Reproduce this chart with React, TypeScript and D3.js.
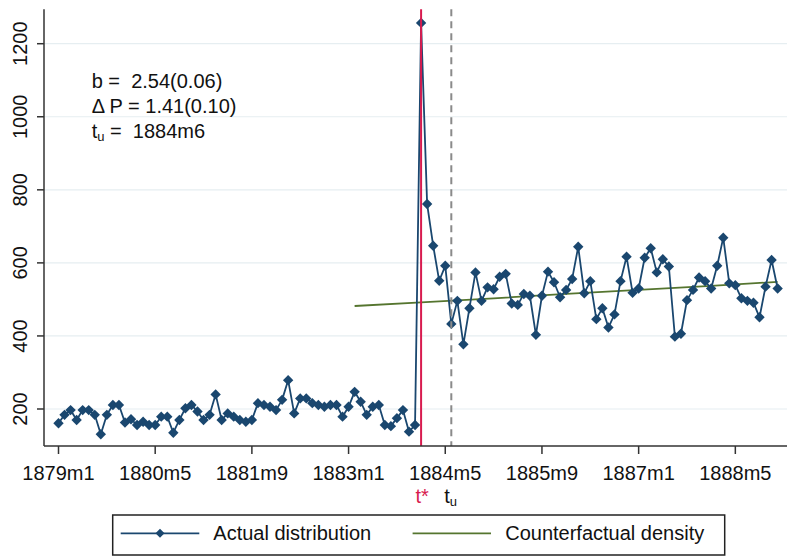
import React from 'react';
import * as d3 from 'd3';

const startYear = 1879;

// Monthly actual distribution, 1879m1 .. 1888m12
const actualValues = [
  161, 184, 197, 170, 197, 197, 184, 131, 184, 211, 211, 163,
  172, 156, 165, 156, 156, 179, 179, 135, 170, 202, 211, 193,
  170, 184, 240, 170, 188, 179, 170, 165, 170, 216, 211, 206,
  197, 225, 279, 188, 229, 229, 216, 211, 206, 211, 211, 179,
  206, 247, 220, 184, 206, 211, 156, 153, 175, 197, 138, 156,
  1257, 761, 647, 551, 592, 433, 496, 377, 476, 574, 496, 533,
  528, 562, 570, 489, 485, 515, 510, 403, 510, 576, 547, 506,
  526, 556, 644, 517, 550, 446, 476, 423, 459, 550, 617, 518,
  530, 614, 640, 574, 610, 590, 398, 406, 498, 526, 560, 550,
  530, 592, 669, 544, 539, 503, 496, 491, 451, 535, 608, 530,
];

// Counterfactual density (read at a few months)
const counterfactualMonths = ['1883m2', '1884m1', '1885m1', '1886m1', '1887m1', '1888m1', '1888m12'];
const counterfactualValues = [482, 492, 503, 515, 526, 537, 548];

const xTickLabels = ['1879m1', '1880m5', '1881m9', '1883m1', '1884m5', '1885m9', '1887m1', '1888m5'];
const yTickValues = [200, 400, 600, 800, 1000, 1200];

const tStarMonth = '1884m1';
const tUMonth = '1884m6';

const annB = '2.54(0.06)';
const annDP = '1.41(0.10)';
const annTu = '1884m6';

const legendLabels = ['Actual distribution', 'Counterfactual density'];

const NAVY = '#1a476f';
const GREEN = '#55752f';
const RED = '#d81b4f';
const FONT = '"Liberation Sans", Arial, sans-serif';
const TEXT = '#111';

function monthIndex(label: string): number {
  const [y, m] = label.split('m');
  return (Number(y) - startYear) * 12 + (Number(m) - 1);
}

export default function App() {
  const W = 787;
  const H = 556;
  const left = 44;
  const bottom = 446;
  const top = 9.3;

  const x = d3.scaleLinear().domain([-2.4, 120.55]).range([left, W]);
  const y = d3.scaleLinear().domain([98.7, 1294.2]).range([bottom, top]);

  const actual = actualValues.map((v, i) => [i, v] as [number, number]);
  const cf = counterfactualMonths.map((m, i) => [monthIndex(m), counterfactualValues[i]] as [number, number]);

  const line = d3.line<[number, number]>().x(d => x(d[0])).y(d => y(d[1]));

  const r = 5.2;
  const diamond = (cx: number, cy: number, rr: number) =>
    `M${cx},${cy - rr}L${cx + rr},${cy}L${cx},${cy + rr}L${cx - rr},${cy}Z`;

  const tStarX = x(monthIndex(tStarMonth));
  const tUX = x(monthIndex(tUMonth));

  const fs = 20;
  const pre = { whiteSpace: 'pre' } as React.CSSProperties;

  return (
    <div style={{ position: 'fixed', left: 0, top: 0 }}>
      <svg width={W} height={H} style={{ display: 'block', background: '#fff' }} fontFamily={FONT}>
        {/* gridlines */}
        {yTickValues.map(v => (
          <line key={'g' + v} x1={left} x2={W} y1={y(v)} y2={y(v)} stroke="#e6eef1" strokeWidth={1.2} />
        ))}

        {/* counterfactual */}
        <path d={line(cf) || ''} fill="none" stroke={GREEN} strokeWidth={1.8} />

        {/* actual */}
        <path d={line(actual) || ''} fill="none" stroke={NAVY} strokeWidth={1.8} strokeLinejoin="round" />
        {actual.map(([i, v]) => (
          <path key={'m' + i} d={diamond(x(i), y(v), r)} fill={NAVY} />
        ))}

        {/* vertical lines */}
        <line x1={tStarX} x2={tStarX} y1={top} y2={bottom} stroke={RED} strokeWidth={2} />
        <line x1={tUX} x2={tUX} y1={top} y2={bottom} stroke="#8a8a8a" strokeWidth={2} strokeDasharray="7,5" />

        {/* axes */}
        <line x1={left} x2={left} y1={top} y2={bottom} stroke="#333" strokeWidth={1.5} />
        <line x1={left} x2={W} y1={bottom} y2={bottom} stroke="#333" strokeWidth={1.5} />

        {yTickValues.map(v => (
          <g key={'yt' + v}>
            <line x1={left - 7} x2={left} y1={y(v)} y2={y(v)} stroke="#333" strokeWidth={1.5} />
            <text
              transform={`translate(${27},${y(v)}) rotate(-90)`}
              textAnchor="middle"
              fontSize={fs}
              fill={TEXT}
            >
              {v}
            </text>
          </g>
        ))}

        {xTickLabels.map(lbl => {
          const xi = x(monthIndex(lbl));
          return (
            <g key={'xt' + lbl}>
              <line x1={xi} x2={xi} y1={bottom} y2={bottom + 8} stroke="#333" strokeWidth={1.5} />
              <text x={xi} y={480} textAnchor="middle" fontSize={fs} fill={TEXT}>
                {lbl}
              </text>
            </g>
          );
        })}

        {/* t* and t_u labels */}
        <text x={tStarX + 1} y={503} textAnchor="middle" fontSize={fs} fill={RED}>t*</text>
        <text x={tUX - 7} y={503} fontSize={fs} fill={TEXT}>
          t<tspan fontSize={13} dy={3}>u</tspan>
        </text>

        {/* annotation */}
        <g fontSize={fs} fill={TEXT}>
          <text x={91.7} y={88.3} xmlSpace="preserve" style={pre}>{'b =  ' + annB}</text>
          <text x={91.7} y={112.7} xmlSpace="preserve" style={pre}>{'\u0394 P = ' + annDP}</text>
          <text x={91.7} y={137.5} xmlSpace="preserve" style={pre}>
            t<tspan fontSize={13} dy={3}>u</tspan>
            <tspan dy={-3} fontSize={fs} xmlSpace="preserve" style={pre}>{' =  ' + annTu}</tspan>
          </text>
        </g>

        {/* legend */}
        <rect x={112.7} y={515} width={612} height={40} fill="#fff" stroke="#222" strokeWidth={1.5} />
        <line x1={120.7} x2={199.3} y1={533.3} y2={533.3} stroke={NAVY} strokeWidth={1.8} />
        <path d={diamond(160, 533.3, 4.5)} fill={NAVY} />
        <text x={213.3} y={540} fontSize={fs} fill={TEXT}>{legendLabels[0]}</text>
        <line x1={412.6} x2={491} y1={533.3} y2={533.3} stroke={GREEN} strokeWidth={1.8} />
        <text x={505.2} y={540} fontSize={fs} fill={TEXT}>{legendLabels[1]}</text>
      </svg>
    </div>
  );
}
